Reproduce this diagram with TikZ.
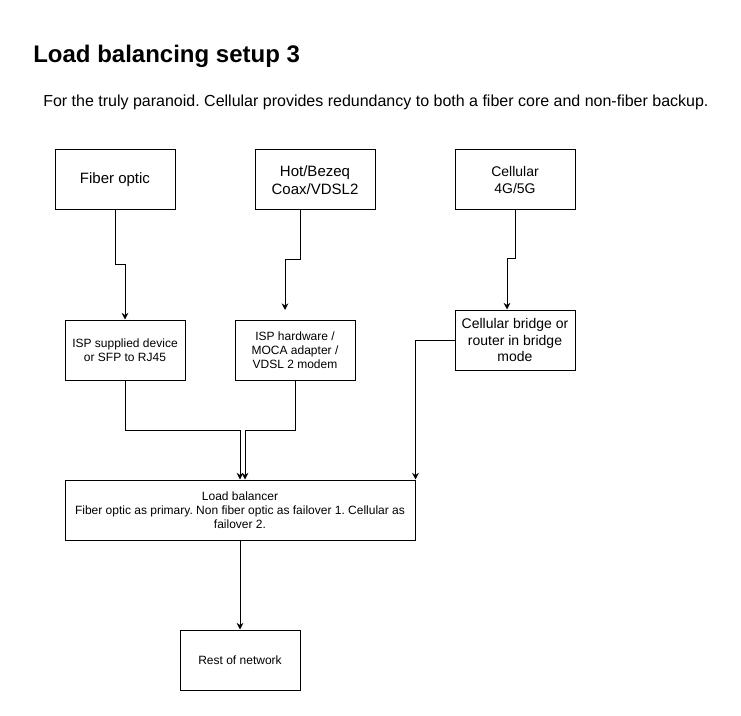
\documentclass[tikz,border=0pt]{standalone}
\usepackage{fontspec}
\setmainfont{Liberation Sans}
\usetikzlibrary{arrows.meta,calc}
\frenchspacing
\begin{document}
\begin{tikzpicture}[x=0.75pt,y=-0.75pt,
  box/.style={draw,line width=0.75pt,rectangle,minimum width=90pt,minimum height=45pt,inner sep=0pt,align=center},
  bigger/.style={font=\fontsize{11.25pt}{13.5pt}\selectfont},
  big/.style={font=\fontsize{10.5pt}{12.3pt}\selectfont},
  small/.style={font=\fontsize{9pt}{10.5pt}\selectfont},
  conn/.style={line width=0.75pt,-{Stealth[length=5pt,width=5pt]}}]
\useasboundingbox (0,0) rectangle (741,716);
\node[anchor=base west,font=\bfseries\fontsize{18pt}{21pt}\selectfont,inner sep=0pt] (title) at (33,63) {Load balancing setup 3};
\node[anchor=base west,font=\fontsize{12pt}{14pt}\selectfont,inner sep=0pt] (sub) at (43,107) {For the truly paranoid. Cellular provides redundancy to both a fiber core and non-fiber backup.};

\node[box,bigger] (fiber) at (115,180) {Fiber optic};
\node[box,bigger] (hot) at (315,180) {Hot/Bezeq\\Coax/VDSL2};
\node[box,big] (cell) at (515,180) {Cellular\\4G/5G};
\node[box,small] (isp1) at (125,350) {ISP supplied device\\or SFP to RJ45};
\node[box,small] (isp2) at (295,350) {ISP hardware /\\MOCA adapter /\\VDSL 2 modem};
\node[box,big] (bridge) at (515,340) {Cellular bridge or\\router in bridge\\mode};
\node[box,small,minimum width=262.5pt] (lb) at (240,510) {Load balancer\\Fiber optic as primary. Non fiber optic as failover 1. Cellular as\\failover 2.};
\node[box,small] (rest) at (240,660) {Rest of network};

\coordinate (hotend) at (285,310);

\draw[conn] (fiber.south) -- (115,265) -| (isp1.north);
\draw[conn] (300,210) -- (300,260) -| (hotend);
\draw[conn] (cell.south) -- (515,259) -| ([xshift=-6pt]bridge.north);
\draw[conn] (bridge.west) -| (lb.north east);
\draw[conn] (isp1.south) -- (125,430) -| (lb.north);
\draw[conn] (isp2.south) -- (295,430) -| ([xshift=3.75pt]lb.north);
\draw[conn] (lb.south) -- (rest.north);
\end{tikzpicture}
\end{document}
